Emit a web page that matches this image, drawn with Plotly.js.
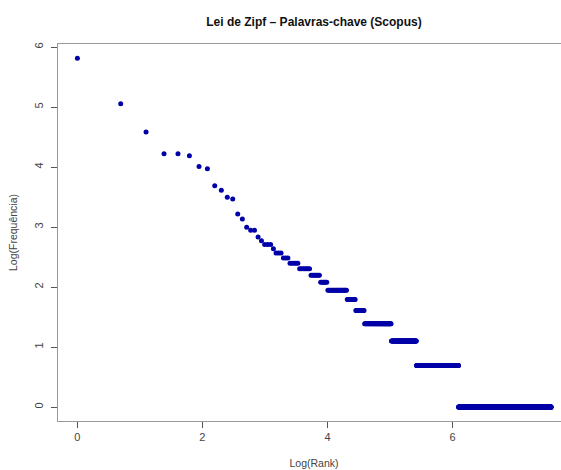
<!DOCTYPE html>
<html>
<head>
<meta charset="utf-8">
<script src="https://cdn.plot.ly/plotly-3.0.1.min.js"></script>
<style>
html, body { margin: 0; padding: 0; overflow: hidden; background: #fff; width: 561px; height: 470px; }
#chart { width: 580px; height: 470px; }
</style>
</head>
<body>
<div id="chart"></div>
<script>
// Word frequencies (Scopus keywords), as frequency value and number of words having it
const freqValues = [335, 157, 98, 68, 66, 55, 53, 40, 37, 33, 32, 25, 23, 20, 19, 17, 16, 15, 14, 13, 12, 11, 10, 9, 8, 7, 6, 5, 4, 3, 2, 1];
const wordCounts = [1, 1, 1, 2, 1, 1, 1, 1, 1, 1, 1, 1, 1, 1, 2, 1, 1, 3, 1, 3, 3, 5, 7, 7, 6, 20, 11, 13, 53, 75, 218, 1507];
const xTickVals = [0, 2, 4, 6];
const yTickVals = [0, 1, 2, 3, 4, 5, 6];

// Rank-frequency list, then log transform (Zipf plot)
const logRank = [];
const logFreq = [];
let rank = 0;
for (let i = 0; i < freqValues.length; i++) {
  for (let k = 0; k < wordCounts[i]; k++) {
    rank += 1;
    logRank.push(Math.log(rank));
    logFreq.push(Math.log(freqValues[i]));
  }
}

const font = 'Liberation Sans, Arial, sans-serif';

Plotly.newPlot('chart', [{
  type: 'scatter',
  mode: 'markers',
  x: logRank,
  y: logFreq,
  marker: { color: '#0000a8', size: 5, line: { width: 0 } },
  hoverinfo: 'skip'
}], {
  width: 580,
  height: 470,
  margin: { l: 58, r: 10, t: 44, b: 49 },
  paper_bgcolor: '#ffffff',
  plot_bgcolor: '#ffffff',
  showlegend: false,
  font: { family: font, color: '#333' },
  title: {
    text: '<b>Lei de Zipf – Palavras-chave (Scopus)</b>',
    font: { family: font, size: 12, color: '#111' },
    x: 0.5, xref: 'paper', xanchor: 'center',
    y: 20, yref: 'container', yanchor: 'middle'
  },
  xaxis: {
    range: [-0.31, 7.88],
    tickvals: xTickVals,
    ticktext: xTickVals.map(String),
    ticks: 'outside', ticklen: 6, tickcolor: '#555', tickwidth: 1,
    tickfont: { family: font, size: 11, color: '#444' },
    showgrid: false, zeroline: false,
    showline: true, linecolor: '#999', linewidth: 1, mirror: true,
    title: { text: 'Log(Rank)', font: { family: font, size: 10.5, color: '#444' }, standoff: 17 },
    automargin: false
  },
  yaxis: {
    range: [-0.233, 6.05],
    tickvals: yTickVals,
    ticktext: yTickVals.map(String),
    tickangle: -90,
    ticks: 'outside', ticklen: 6, tickcolor: '#555', tickwidth: 1,
    tickfont: { family: font, size: 11, color: '#444' },
    ticklabelstandoff: 4,
    showgrid: false, zeroline: false,
    showline: true, linecolor: '#999', linewidth: 1, mirror: true,
    title: { text: 'Log(Frequência)', font: { family: font, size: 10.5, color: '#444' }, standoff: 12 },
    automargin: false
  }
}, { displayModeBar: false, staticPlot: true });
</script>
</body>
</html>
